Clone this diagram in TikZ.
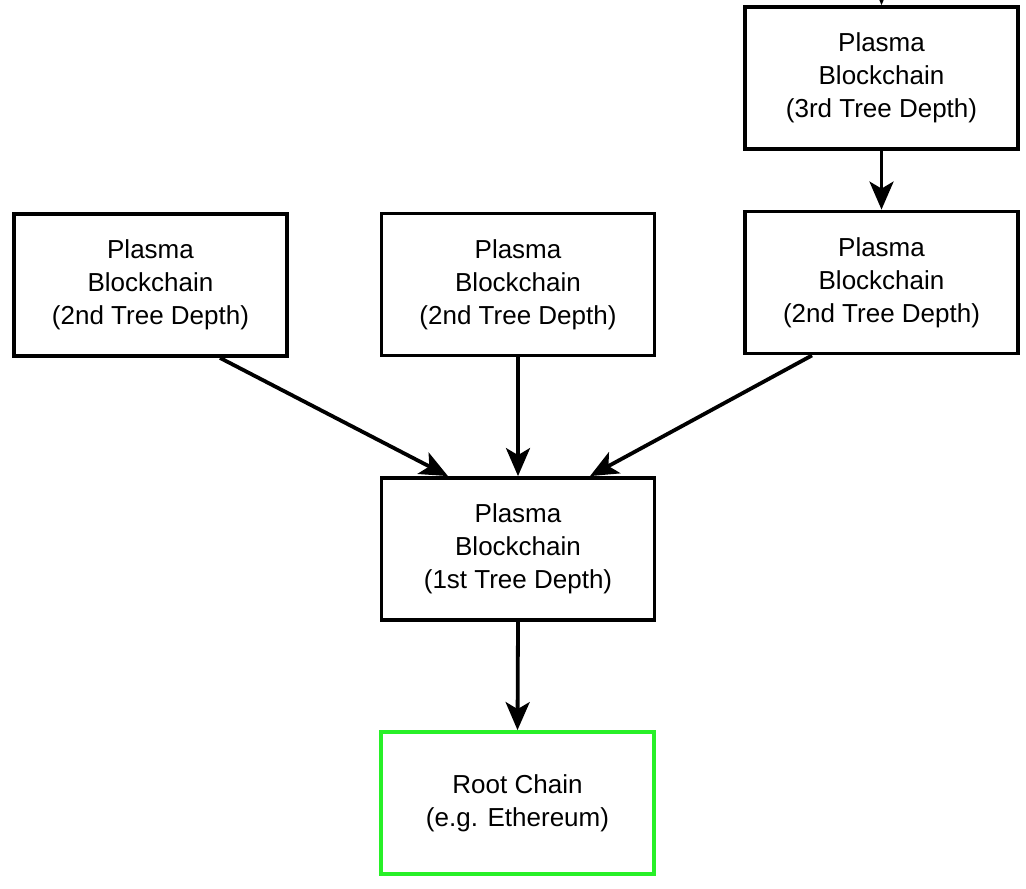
\documentclass[tikz,border=0pt]{standalone}
\usepackage{fontspec}
\setmainfont{Liberation Sans}
\usepackage{xcolor}
\usetikzlibrary{arrows.meta, positioning, calc}
\definecolor{rootgreen}{RGB}{40,240,40}

\begin{document}
\begin{tikzpicture}[x=0.5pt, y=-0.5pt,
    block/.style={draw, line width=1.9pt, minimum width=136.5pt, minimum height=71pt,
      inner sep=0pt, align=center, font=\fontsize{13}{16.5}\selectfont},
    link/.style={-{Stealth[length=14pt, width=12pt, inset=3.5pt]}, line width=1.9pt}]
  \useasboundingbox (0,0) rectangle (1026,888);

  % third level
  \node[block] (depth3) at (881.5,78) {Plasma\\Blockchain\\(3rd Tree Depth)};

  % second level
  \node[block] (depth2l) at (150.5,285) {Plasma\\Blockchain\\(2nd Tree Depth)};
  \node[block] (depth2m) at (518,284.5) {Plasma\\Blockchain\\(2nd Tree Depth)};
  \node[block] (depth2r) at (881.5,282.5) {Plasma\\Blockchain\\(2nd Tree Depth)};

  % first level
  \node[block] (depth1) at (518,549) {Plasma\\Blockchain\\(1st Tree Depth)};

  % root chain
  \node[block, draw=rootgreen] (root) at (517.5,803) {Root Chain\\(e.g. Ethereum)};

  % incoming from above
  \coordinate (above) at (881.5,-40);
  \draw[link] (above) -- (depth3.north);

  % 3rd to 2nd
  \draw[link] (depth3.south) -- (depth2r.north);

  % 2nd to 1st
  \draw[link] ($(depth2l.south)+(69.5,0)$) -- ($(depth1.north)+(-70,0)$);
  \draw[link] (depth2m.south) -- (depth1.north);
  \draw[link] ($(depth2r.south)+(-69.5,0)$) -- ($(depth1.north)+(72,0)$);

  % 1st to root
  \draw[link] (depth1.south) -- (root.north);
\end{tikzpicture}
\end{document}
